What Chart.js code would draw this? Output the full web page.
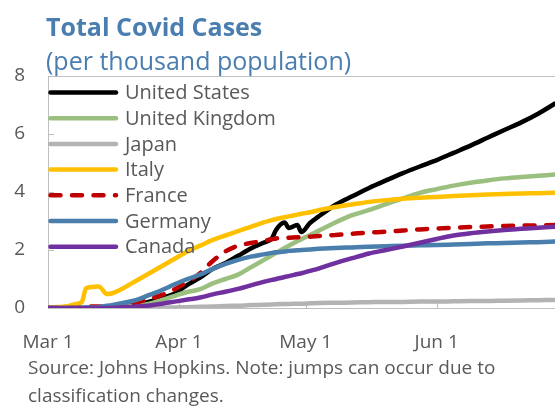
<!DOCTYPE html>
<html>
<head>
<meta charset="utf-8">
<script src="https://cdn.jsdelivr.net/npm/chart.js@4"></script>
<style>
  body { margin: 0; background: #fff; }
  #wrap { position: relative; width: 555px; height: 407px; overflow: hidden; font-family: "Open Sans", sans-serif; }
  #wrap canvas { position: absolute; left: 0; top: 0; }
  .txt { position: absolute; white-space: nowrap; line-height: 1; }
  #title { left: 46px; top: 14px; font-size: 25px; font-weight: bold; color: #4A7EB0; }
  #subtitle { left: 46px; top: 48px; font-size: 25px; color: #4A7EB0; }
  #source { left: 28px; top: 353px; font-size: 19px; color: #595959; line-height: 28px; }
</style>
</head>
<body>
<div id="wrap">
  <canvas id="chart" width="555" height="407"></canvas>
  <div class="txt" id="title">Total Covid Cases</div>
  <div class="txt" id="subtitle">(per thousand population)</div>
  <div class="txt" id="source">Source: Johns Hopkins. Note: jumps can occur due to<br>classification changes.</div>
</div>
<script>
// days counted from Mar 1
const tickDays = [0, 31, 61, 92];
const tickLabels = ["Mar 1", "Apr 1", "May 1", "Jun 1"];

const days = [0, 4, 7, 8, 9, 12, 14, 15, 18, 21, 24, 27, 30, 33, 36, 39, 42, 45, 48, 51,
  53, 54, 56, 57, 59, 60, 62, 64, 68, 72, 76, 80, 84, 88, 92, 96, 100, 104, 108, 112, 116, 120];

const unitedStates = [0, 0, 0, 0, 0, 0.01, 0.02, 0.02, 0.05, 0.12, 0.22, 0.35, 0.5, 0.8, 1.05, 1.35, 1.55, 1.8, 2.05, 2.25,
  2.4, 2.7, 2.95, 2.76, 2.86, 2.62, 2.93, 3.15, 3.55, 3.85, 4.14, 4.4, 4.65, 4.88, 5.1, 5.35, 5.6, 5.87, 6.14, 6.4, 6.7, 7.05];
const unitedKingdom = [0, 0, 0, 0, 0, 0, 0.01, 0.02, 0.04, 0.08, 0.15, 0.28, 0.42, 0.55, 0.65, 0.85, 1.0, 1.15, 1.4, 1.65,
  1.82, 1.9, 2.07, 2.15, 2.3, 2.37, 2.52, 2.66, 2.95, 3.2, 3.38, 3.58, 3.78, 3.97, 4.1, 4.22, 4.32, 4.4, 4.47, 4.52, 4.56, 4.6];
const japan = [0, 0, 0, 0, 0, 0, 0, 0, 0, 0.01, 0.01, 0.01, 0.02, 0.03, 0.04, 0.05, 0.07, 0.08, 0.1, 0.11,
  0.12, 0.13, 0.14, 0.14, 0.15, 0.15, 0.16, 0.17, 0.18, 0.19, 0.2, 0.21, 0.21, 0.22, 0.22, 0.23, 0.24, 0.24, 0.25, 0.26, 0.27, 0.28];
const italy = [0.02, 0.05, 0.15, 0.2, 0.68, 0.74, 0.48, 0.5, 0.7, 0.95, 1.2, 1.45, 1.7, 1.95, 2.15, 2.35, 2.5, 2.65, 2.8, 2.95,
  3.03, 3.07, 3.13, 3.16, 3.22, 3.25, 3.3, 3.37, 3.48, 3.57, 3.66, 3.72, 3.77, 3.8, 3.83, 3.86, 3.89, 3.91, 3.93, 3.95, 3.96, 3.97];
const france = [0, 0, 0, 0.02, 0.05, 0.05, 0.05, 0.06, 0.1, 0.2, 0.32, 0.45, 0.65, 0.9, 1.2, 1.62, 1.95, 2.15, 2.24, 2.32,
  2.37, 2.4, 2.41, 2.42, 2.44, 2.45, 2.46, 2.48, 2.52, 2.56, 2.6, 2.63, 2.67, 2.71, 2.74, 2.77, 2.79, 2.81, 2.83, 2.84, 2.85, 2.86];
const germany = [0, 0, 0, 0, 0.01, 0.03, 0.08, 0.1, 0.18, 0.28, 0.45, 0.62, 0.82, 1.0, 1.15, 1.35, 1.52, 1.66, 1.77, 1.85,
  1.9, 1.92, 1.95, 1.97, 1.99, 2.0, 2.02, 2.04, 2.07, 2.09, 2.11, 2.13, 2.15, 2.16, 2.17, 2.19, 2.21, 2.23, 2.24, 2.26, 2.27, 2.29];
const canada = [0, 0, 0, 0, 0, 0, 0, 0, 0.02, 0.05, 0.09, 0.15, 0.22, 0.29, 0.36, 0.47, 0.56, 0.66, 0.78, 0.9,
  0.97, 1.0, 1.07, 1.1, 1.17, 1.2, 1.28, 1.36, 1.55, 1.72, 1.88, 2.0, 2.12, 2.25, 2.38, 2.5, 2.58, 2.64, 2.69, 2.73, 2.77, 2.8];

const SERIES = [
  { label: "United States", values: unitedStates, color: "#000000" },
  { label: "United Kingdom", values: unitedKingdom, color: "#9BBF7E" },
  { label: "Japan", values: japan, color: "#B3B3B3" },
  { label: "Italy", values: italy, color: "#FFC000" },
  { label: "France", values: france, color: "#C00000", dash: [10, 11.5] },
  { label: "Germany", values: germany, color: "#4A7EAD" },
  { label: "Canada", values: canada, color: "#7030A0" }
];

const GRAY = "#595959";
const AXIS = "#BFBFBF";
const FONT = "'Open Sans', sans-serif";

// ---------- plugins ----------
const frame = {
  id: "frame",
  beforeDatasetsDraw(chart) {
    const { ctx, chartArea: a, scales } = chart;
    ctx.save();
    ctx.strokeStyle = "#D0D0D0";
    ctx.lineWidth = 1;
    ctx.beginPath();
    ctx.moveTo(a.left, a.top + 0.5);
    ctx.lineTo(a.right, a.top + 0.5);
    // inner tick marks
    ctx.strokeStyle = AXIS;
    tickDays.slice(1).forEach(d => {
      const x = Math.round(scales.x.getPixelForValue(d)) + 0.5;
      ctx.moveTo(x, a.bottom);
      ctx.lineTo(x, a.bottom - 6);
    });
    [2, 4, 6].forEach(v => {
      const y = Math.round(scales.y.getPixelForValue(v)) + 0.5;
      ctx.moveTo(a.left, y);
      ctx.lineTo(a.left + 6, y);
    });
    ctx.stroke();
    ctx.restore();
  }
};

const insideLegend = {
  id: "insideLegend",
  afterDatasetsDraw(chart) {
    const { ctx, chartArea: a } = chart;
    ctx.save();
    ctx.font = "20px " + FONT;
    ctx.textBaseline = "middle";
    chart.data.datasets.forEach((ds, i) => {
      const y = a.top + 16.5 + i * 25.7;
      ctx.strokeStyle = ds.borderColor;
      ctx.lineWidth = ds.borderWidth;
      ctx.lineCap = "round";
      ctx.setLineDash(ds.borderDash || []);
      ctx.beginPath();
      ctx.moveTo(a.left + 2.5, y);
      ctx.lineTo(a.left + 68, y);
      ctx.stroke();
      ctx.setLineDash([]);
      ctx.fillStyle = GRAY;
      ctx.fillText(ds.label, a.left + 77, y + 1);
    });
    ctx.restore();
  }
};

// ---------- chart ----------
new Chart(document.getElementById("chart"), {
  type: "line",
  data: {
    datasets: SERIES.map((s, i) => ({
      label: s.label,
      data: days.map((d, k) => ({ x: d, y: s.values[k] })),
      borderColor: s.color,
      backgroundColor: s.color,
      borderWidth: 4.5,
      borderDash: s.dash || [],
      borderCapStyle: "round",
      borderJoinStyle: "round",
      cubicInterpolationMode: "monotone",
      pointRadius: 0,
      order: SERIES.length - i
    }))
  },
  options: {
    responsive: false,
    animation: false,
    devicePixelRatio: 1,
    layout: { padding: { top: 76, bottom: 39, left: 0, right: 0 } },
    plugins: { legend: { display: false }, tooltip: { enabled: false } },
    scales: {
      x: {
        type: "linear",
        min: 0,
        max: 120,
        afterBuildTicks: s => { s.ticks = tickDays.map(v => ({ value: v })); },
        afterFit: s => { s.height = 60; },
        ticks: {
          callback: (v, i) => tickLabels[i],
          autoSkip: false,
          maxRotation: 0,
          padding: 15,
          color: GRAY,
          font: { family: FONT, size: 19 }
        },
        grid: { display: false },
        border: { color: AXIS, width: 1 }
      },
      y: {
        min: 0,
        max: 8,
        afterFit: s => { s.width = 48; },
        ticks: {
          stepSize: 2,
          padding: 15,
          color: GRAY,
          font: { family: FONT, size: 19 }
        },
        grid: { display: false },
        border: { color: AXIS, width: 1 }
      }
    }
  },
  plugins: [frame, insideLegend]
});
</script>
</body>
</html>
